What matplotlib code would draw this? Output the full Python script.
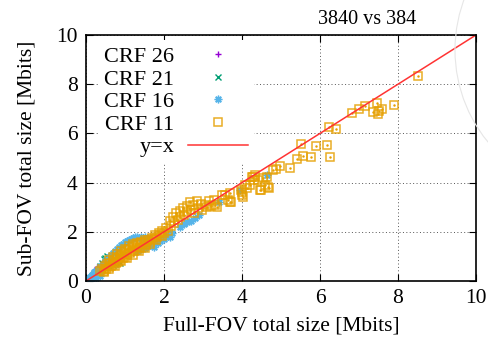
import matplotlib
matplotlib.use("Agg")
import matplotlib.pyplot as plt
from matplotlib.patches import Ellipse

plt.rcParams['font.family'] = ['Liberation Serif', 'DejaVu Serif']

# --- data ---
crf26_x = [0.00, 0.02, 0.05, 0.10, 0.15, 0.20, 0.22, 0.25, 0.27]
crf26_y = [0.00, 0.02, 0.04, 0.15, 0.25, 0.38, 0.45, 0.50, 0.55]

crf21_x = [0.05, 0.10, 0.15, 0.20, 0.25, 0.30, 0.35, 0.40, 0.45, 0.50, 0.55, 0.60,
           0.50, 0.60, 0.70, 0.75, 0.80, 0.88]
crf21_y = [0.06, 0.12, 0.20, 0.28, 0.35, 0.45, 0.60, 0.75, 0.88, 0.95, 1.02, 0.98,
           0.55, 0.60, 0.65, 0.70, 0.72, 0.75]

crf16_x = [0.02, 0.05, 0.08, 0.10, 0.12, 0.15, 0.18, 0.20, 0.22, 0.25, 0.28, 0.30,
           0.33, 0.36, 0.40, 0.42, 0.45, 0.50, 0.55, 0.60, 0.65, 0.70, 0.75, 0.80,
           0.85, 0.90, 0.95, 1.00, 1.05, 1.10, 1.15, 1.20, 1.25, 1.30, 1.35, 1.40,
           1.45, 1.50, 1.55, 1.60, 1.65, 0.10, 0.20, 0.25, 0.35,
           1.30, 1.40, 1.50, 1.60, 1.70, 1.75, 1.80, 1.85, 1.90, 1.95, 2.00, 2.05,
           2.10, 2.15, 2.20, 2.40, 2.50, 2.60, 2.70, 2.80, 2.90, 3.40, 3.95, 4.63]
crf16_y = [0.03, 0.08, 0.04, 0.18, 0.10, 0.25, 0.15, 0.35, 0.22, 0.40, 0.30, 0.48,
           0.38, 0.55, 0.65, 0.48, 0.75, 0.82, 0.90, 0.98, 1.05, 1.15, 1.22, 1.30,
           1.38, 1.45, 1.52, 1.58, 1.62, 1.68, 1.72, 1.76, 1.78, 1.80, 1.75, 1.80,
           1.76, 1.78, 1.72, 1.75, 1.70, 0.05, 0.12, 0.12, 0.22,
           1.20, 1.30, 1.36, 1.42, 1.50, 1.40, 1.58, 1.55, 1.62, 1.70, 1.72, 1.80,
           1.85, 1.78, 1.95, 2.20, 2.30, 2.40, 2.45, 2.55, 2.70, 3.20, 3.70, 4.31]

crf11_x = [0.35, 0.40, 0.45, 0.50, 0.52, 0.55, 0.58, 0.62, 0.65, 0.68, 0.70, 0.74,
           0.76, 0.80, 0.82, 0.86, 0.88, 0.92, 0.95, 0.98, 1.00,
           0.45, 0.60, 0.75, 0.90, 1.05, 1.20, 1.35, 1.50,
           0.60, 0.70, 0.80, 0.90, 1.00, 1.10, 1.20, 1.30, 1.40, 1.50,
           1.04, 1.06, 1.10, 1.14, 1.18, 1.22, 1.26, 1.30, 1.35, 1.38, 1.42, 1.46,
           1.50, 1.55, 1.60, 1.64, 1.70, 1.74, 1.78, 1.82, 1.86, 1.90, 1.95, 2.00,
           1.65, 1.80, 1.95,
           2.05, 2.10, 2.15, 2.18, 2.22, 2.26, 2.30, 2.35, 2.40, 2.42, 2.48, 2.52,
           2.58, 2.60, 2.66, 2.70, 2.75, 2.78, 2.85, 2.88, 2.95, 2.98, 3.05, 3.10,
           3.15, 3.20, 3.28, 3.30, 3.35,
           3.48, 3.56, 3.65, 3.69, 3.69, 3.72, 3.98, 3.99, 4.00, 4.03, 4.08, 4.12,
           4.20, 4.25, 4.29, 4.30, 4.33, 4.42, 4.46, 4.48, 4.55, 4.60, 4.63, 4.67,
           4.68, 4.80, 4.87, 4.97,
           5.23, 5.40, 5.51, 5.57, 5.76, 5.90, 6.17, 6.23, 6.26, 6.41, 6.81, 7.00,
           7.15, 7.37, 7.45, 7.48, 7.50, 7.58, 7.90, 8.52]
crf11_y = [0.40, 0.50, 0.42, 0.62, 0.48, 0.70, 0.55, 0.75, 0.60, 0.82, 0.66, 0.90,
           0.72, 0.95, 0.78, 1.02, 0.84, 1.10, 0.92, 1.18, 0.98,
           0.36, 0.50, 0.62, 0.80, 0.92, 1.05, 1.20, 1.36,
           0.85, 0.98, 1.08, 1.20, 1.30, 1.42, 1.50, 1.55, 1.60, 1.68,
           1.25, 1.04, 1.32, 1.12, 1.38, 1.20, 1.45, 1.28, 1.50, 1.34, 1.55, 1.40,
           1.60, 1.48, 1.66, 1.58, 1.75, 1.70, 1.88, 1.78, 1.96, 1.86, 2.05, 1.95,
           1.50, 1.68, 1.82,
           2.15, 2.02, 2.45, 2.25, 2.60, 2.35, 2.75, 2.50, 2.85, 2.60, 2.95, 2.70,
           3.05, 2.80, 3.20, 2.90, 3.10, 2.75, 3.25, 2.95, 3.15, 2.90, 3.10, 3.00,
           3.25, 3.05, 3.30, 3.10, 3.00,
           3.50, 3.50, 3.29, 3.57, 3.22, 3.20, 3.70, 3.63, 3.50, 3.43, 3.90, 3.77,
           3.90, 4.24, 4.24, 4.10, 4.31, 4.10, 3.70, 3.70, 4.17, 3.90, 4.24, 3.83,
           3.77, 4.50, 4.54, 4.67,
           4.58, 4.95, 5.58, 5.09, 5.04, 5.50, 5.54, 6.27, 5.05, 6.17, 6.82, 6.99,
           7.11, 6.88, 7.22, 6.79, 6.90, 7.00, 7.14, 8.33]

line_x = [0, 10]
line_y = [0, 10]

c26, c21, c16, c11 = '#9400D3', '#009E73', '#56B4E9', '#E69F00'

fig = plt.figure(figsize=(4.89, 3.42), dpi=100)
ax = fig.add_axes([86 / 489, 61 / 342, 390 / 489, 246 / 342])

ax.plot(crf26_x, crf26_y, ls='none', marker='+', ms=5, mew=1.0, color=c26, label='CRF 26')
ax.plot(crf21_x, crf21_y, ls='none', marker='x', ms=4.5, mew=1.0, color=c21, label='CRF 21')
ax.plot(crf16_x, crf16_y, ls='none', marker=(8, 2, 0), ms=5.5, mew=1.0, color=c16,
        label='CRF 16')
ax.plot(crf11_x, crf11_y, ls='none', marker='s', ms=6.3, mew=1.1, mfc='none', mec=c11,
        alpha=0.85, label='CRF 11')
ax.plot(crf11_x, crf11_y, ls='none', marker='.', ms=1.5, color=c11)
ax.plot(line_x, line_y, color='#ff3333', lw=1.1, label='y=x')

ax.set_xlim(0, 10)
ax.set_ylim(0, 10)
ax.set_xticks([0, 2, 4, 6, 8, 10])
ax.set_yticks([0, 2, 4, 6, 8, 10])
ax.tick_params(direction='in', top=True, right=True, length=5, width=0.8,
               labelsize=15.5, pad=6)
ax.grid(True, color='#555555', ls=(0, (1, 2.5)), lw=0.7)
for s in ax.spines.values():
    s.set_linewidth(1.2)
    s.set_zorder(10)

ax.set_title('3840 vs 384', fontsize=14.5, x=0.72, pad=8)
ax.set_xlabel('Full-FOV total size [Mbits]', fontsize=15.5, labelpad=6)
ax.set_ylabel('Sub-FOV total size [Mbits]', fontsize=15.5, labelpad=14)

leg = ax.legend(loc='upper left', bbox_to_anchor=(0.03, 0.98), markerfirst=False,
                fontsize=16, frameon=True, fancybox=False, edgecolor='none',
                facecolor='white', framealpha=1, borderaxespad=0, borderpad=0.3,
                handlelength=2.7, handletextpad=0.6, labelspacing=0.09)

# faint arc at the top right of the picture
fig.add_artist(Ellipse((600 / 489, 292 / 342), 290 / 489, 290 / 342, fill=False,
                       ec='#e6e6e6', lw=0.8, transform=fig.transFigure))

fig.savefig('out.png', dpi=100)
